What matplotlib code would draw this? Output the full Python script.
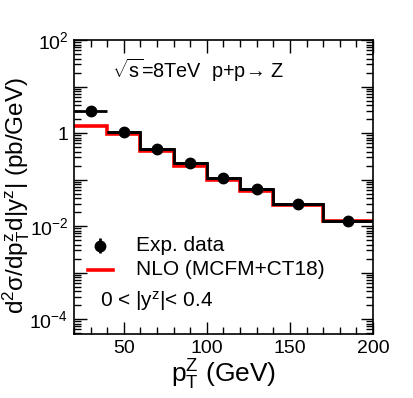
import numpy as np
import matplotlib
matplotlib.use("Agg")
import matplotlib.pyplot as plt
from matplotlib.ticker import LogLocator, FixedLocator, MultipleLocator, NullFormatter

plt.rcParams['font.family'] = ['Liberation Sans', 'DejaVu Sans']
plt.rcParams['mathtext.fontset'] = 'custom'
plt.rcParams['mathtext.rm'] = 'Liberation Sans'
plt.rcParams['mathtext.it'] = 'Liberation Sans:italic'
plt.rcParams['mathtext.sf'] = 'Liberation Sans'

bin_edges = [20, 40, 60, 80, 100, 120, 140, 170, 200]
data_vals = [3.0, 1.07, 0.45, 0.223, 0.109, 0.0615, 0.0297, 0.013]
data_errs = [0.15, 0.05, 0.02, 0.01, 0.005, 0.003, 0.0015, 0.0007]
nlo_vals = [1.44, 0.95, 0.42, 0.20, 0.10, 0.058, 0.028, 0.0128]

edges = np.array(bin_edges, dtype=float)
centers = 0.5 * (edges[:-1] + edges[1:])
halfw = 0.5 * (edges[1:] - edges[:-1])

fig = plt.figure(figsize=(4.14, 3.98), dpi=100)
ax = fig.add_axes([0.1787, 0.1608, 0.7223, 0.7387])

# NLO histogram (red step)
ax.stairs(nlo_vals, edges, color='#ff0000', lw=2.6, zorder=2, baseline=None)
# data step (black) from second bin onward
ax.stairs(data_vals[1:], edges[1:], color='black', lw=2.0, zorder=3, baseline=None)
# data points
ax.errorbar(centers, data_vals, xerr=halfw, yerr=data_errs, fmt='o', color='black',
            ms=7.5, lw=2.0, capsize=0, zorder=4)

ax.set_xlim(20, 200)
ax.set_yscale('log')
ax.set_ylim(4.8e-5, 100)

ax.xaxis.set_major_locator(FixedLocator([50, 100, 150, 200]))
ax.xaxis.set_minor_locator(MultipleLocator(10))
ax.yaxis.set_minor_locator(LogLocator(base=10, subs=np.arange(2, 10), numticks=20))
ax.yaxis.set_minor_formatter(NullFormatter())
yt = [1e-4, 1e-3, 1e-2, 1e-1, 1, 10, 100]
ylabels = {1e-4: r'10$^{-4}$', 1e-2: r'10$^{-2}$', 1: '1', 100: r'10$^{2}$'}
ax.set_yticks(yt)
ax.set_yticklabels([ylabels.get(v, '') for v in yt])

ax.tick_params(which='both', direction='in', top=True, right=True, labelsize=14, width=1)
ax.tick_params(which='major', length=9, pad=4)
ax.tick_params(which='minor', length=5)
for s in ax.spines.values():
    s.set_linewidth(1.2)

ax.set_xlabel(r'p$_{\mathrm{T}}^{\mathrm{Z}}$ (GeV)', fontsize=19)
ax.xaxis.set_label_coords(0.5, -0.14, transform=ax.transAxes)
ax.xaxis.label.set_va('center')
ax.set_ylabel(r'd$^{2}$σ/dp$_{\mathrm{T}}^{\mathrm{z}}$d|y$^{\mathrm{z}}$| (pb/GeV)', fontsize=17.5)
ax.yaxis.set_label_coords(-0.195, 0.47, transform=ax.transAxes)
ax.yaxis.label.set_va('center')

ax.text(0.127, 0.898, r'$\sqrt{\mathrm{s}}$=8TeV  p+p→ Z', transform=ax.transAxes,
        fontsize=14.3, va='center', ha='left')

# legend
ax.errorbar([0.087], [0.30], yerr=[0.025], fmt='o', color='black', ms=7.5, lw=2,
            transform=ax.transAxes, zorder=5, clip_on=False)
ax.plot([0.047, 0.13], [0.218, 0.218], color='#ff0000', lw=2.6, transform=ax.transAxes)
ax.text(0.207, 0.30, 'Exp. data', transform=ax.transAxes, fontsize=15, va='center')
ax.text(0.207, 0.218, 'NLO (MCFM+CT18)', transform=ax.transAxes, fontsize=15, va='center')
ax.text(0.087, 0.112, r'0 < |y$^{\mathrm{z}}$|< 0.4', transform=ax.transAxes, fontsize=15, va='center')

fig.savefig('out.png', dpi=100)
